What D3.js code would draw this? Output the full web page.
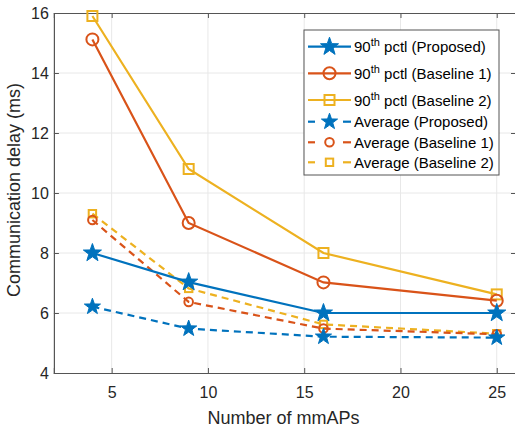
<!DOCTYPE html>
<html><head><meta charset="utf-8">
<script src="https://cdn.jsdelivr.net/npm/d3@7"></script>
<style>body{margin:0;background:#fff}svg{display:block;font-family:"Liberation Sans",Arial,sans-serif}</style>
</head><body><svg id="c" width="515" height="429"></svg>
<script>
const xValues = [4, 9, 16, 25];
const p90Proposed = [8.0, 7.03, 6.0, 6.0];
const p90Baseline1 = [15.12, 9.0, 7.02, 6.41];
const p90Baseline2 = [15.9, 10.8, 8.0, 6.62];
const avgProposed = [6.21, 5.48, 5.21, 5.18];
const avgBaseline1 = [9.1, 6.37, 5.48, 5.29];
const avgBaseline2 = [9.31, 6.82, 5.62, 5.31];
const seriesNames = ["90th pctl (Proposed)","90th pctl (Baseline 1)","90th pctl (Baseline 2)","Average (Proposed)","Average (Baseline 1)","Average (Baseline 2)"];
const xTicks = [5, 10, 15, 20, 25];
const yTicks = [4, 6, 8, 10, 12, 14, 16];
const colors = ["#0072BD", "#D95319", "#EDB120"];

const series = [
  {name: seriesNames[0], vals: p90Proposed, c: colors[0], m: "star", dash: null, big: true},
  {name: seriesNames[1], vals: p90Baseline1, c: colors[1], m: "circle", dash: null, big: true},
  {name: seriesNames[2], vals: p90Baseline2, c: colors[2], m: "square", dash: null, big: true},
  {name: seriesNames[3], vals: avgProposed, c: colors[0], m: "star", dash: "7,5", big: false},
  {name: seriesNames[4], vals: avgBaseline1, c: colors[1], m: "circle", dash: "7,5", big: false},
  {name: seriesNames[5], vals: avgBaseline2, c: colors[2], m: "square", dash: "7,5", big: false}
];

const svg = d3.select("#c");
const L = 53.9, R = 516, T = 13, B = 373;
const x = d3.scaleLinear().domain([2, 26]).range([L, R]);
const y = d3.scaleLinear().domain([4, 16]).range([B, T]);
const axisCol = "#555";

// grid
svg.append("g").selectAll("line").data(xTicks).join("line")
  .attr("x1", d => x(d)).attr("x2", d => x(d)).attr("y1", T).attr("y2", B)
  .attr("stroke", "#e8e8e8").attr("stroke-width", 1);
svg.append("g").selectAll("line").data(yTicks.slice(1, -1)).join("line")
  .attr("y1", d => y(d)).attr("y2", d => y(d)).attr("x1", L).attr("x2", R)
  .attr("stroke", "#e8e8e8").attr("stroke-width", 1);

// axes
const fmt = d3.format("d");
const gx = svg.append("g").attr("transform", `translate(0,${B})`)
  .call(d3.axisBottom(x).tickValues(xTicks).tickSize(-5).tickPadding(13.5).tickFormat(fmt));
const gxt = svg.append("g").attr("transform", `translate(0,${T})`)
  .call(d3.axisTop(x).tickValues(xTicks).tickSize(-5).tickFormat(""));
const gy = svg.append("g").attr("transform", `translate(${L},0)`)
  .call(d3.axisLeft(y).tickValues(yTicks).tickSize(-5).tickPadding(5).tickFormat(fmt));
const gyr = svg.append("g").attr("transform", `translate(${R},0)`)
  .call(d3.axisRight(y).tickValues(yTicks).tickSize(-5).tickFormat(""));
[gx, gxt, gy, gyr].forEach(g => {
  g.select(".domain").attr("stroke", axisCol).attr("stroke-width", 1.2);
  g.selectAll(".tick line").attr("stroke", axisCol);
  g.selectAll(".tick text").attr("fill", "#262626").style("font-size", "16px").style("font-family", "'Liberation Sans',Arial,sans-serif");
});

svg.append("text").attr("x", (L + 513) / 2).attr("y", 423.5).attr("text-anchor", "middle")
  .style("font-size", "18px").attr("fill", "#262626").text("Number of mmAPs");
svg.append("text").attr("transform", `translate(19.5,190) rotate(-90)`).attr("text-anchor", "middle")
  .style("font-size", "18px").attr("fill", "#262626").text("Communication delay (ms)");

function starPath(r) {
  const pts = [];
  const ri = r * 0.4;
  for (let i = 0; i < 10; i++) {
    const a = -Math.PI / 2 + i * Math.PI / 5;
    const rr = i % 2 === 0 ? r : ri;
    pts.push([rr * Math.cos(a), rr * Math.sin(a)]);
  }
  return "M" + pts.map(p => p[0].toFixed(2) + "," + p[1].toFixed(2)).join("L") + "Z";
}
function drawMarker(g, s, cx, cy) {
  if (s.m === "star") {
    g.append("path").attr("d", starPath(s.big ? 9.5 : 8.5)).attr("transform", `translate(${cx},${cy})`)
      .attr("fill", s.c).attr("stroke", s.c).attr("stroke-width", 1);
  } else if (s.m === "circle") {
    const r = s.big ? 6 : 4.3;
    g.append("circle").attr("cx", cx).attr("cy", cy).attr("r", r)
      .attr("fill", "none").attr("stroke", s.c).attr("stroke-width", 2);
  } else {
    const h = s.big ? 5 : 3.7;
    g.append("rect").attr("x", cx - h).attr("y", cy - h).attr("width", 2 * h).attr("height", 2 * h)
      .attr("fill", "none").attr("stroke", s.c).attr("stroke-width", 2);
  }
}

const line = d3.line().x((d, i) => x(xValues[i])).y(d => y(d));
const plotG = svg.append("g");
const order = [5, 4, 3, 2, 1, 0];
order.forEach(k => {
  const s = series[k];
  plotG.append("path").attr("d", line(s.vals)).attr("fill", "none").attr("stroke", s.c)
    .attr("stroke-width", 2.2).attr("stroke-dasharray", s.dash);
  s.vals.forEach((v, i) => drawMarker(plotG, s, x(xValues[i]), y(v)));
});

// legend
const lg = svg.append("g");
lg.append("rect").attr("x", 304).attr("y", 30).attr("width", 195).attr("height", 145)
  .attr("fill", "#fff").attr("stroke", axisCol).attr("stroke-width", 1);
const rowY = [46.7, 73.3, 100, 121.7, 142.3, 162.3];
series.forEach((s, i) => {
  const yy = rowY[i];
  if (s.dash) {
    [[308, 315], [343, 351]].forEach(([a, b]) =>
      lg.append("line").attr("x1", a).attr("x2", b).attr("y1", yy).attr("y2", yy)
        .attr("stroke", s.c).attr("stroke-width", 2.2));
  } else {
    lg.append("line").attr("x1", 308).attr("x2", 351).attr("y1", yy).attr("y2", yy)
      .attr("stroke", s.c).attr("stroke-width", 2.2);
  }
  drawMarker(lg, s, 329.5, yy);
  const t = lg.append("text").attr("x", 354).attr("y", yy + 5.5).style("font-size", "15px").attr("fill", "#000");
  if (i < 3) {
    t.append("tspan").text("90");
    t.append("tspan").attr("dy", -6).style("font-size", "11px").text("th");
    t.append("tspan").attr("dy", 6).text(" " + s.name.replace("90th ", ""));
  } else {
    t.text(s.name);
  }
});
</script></body></html>
